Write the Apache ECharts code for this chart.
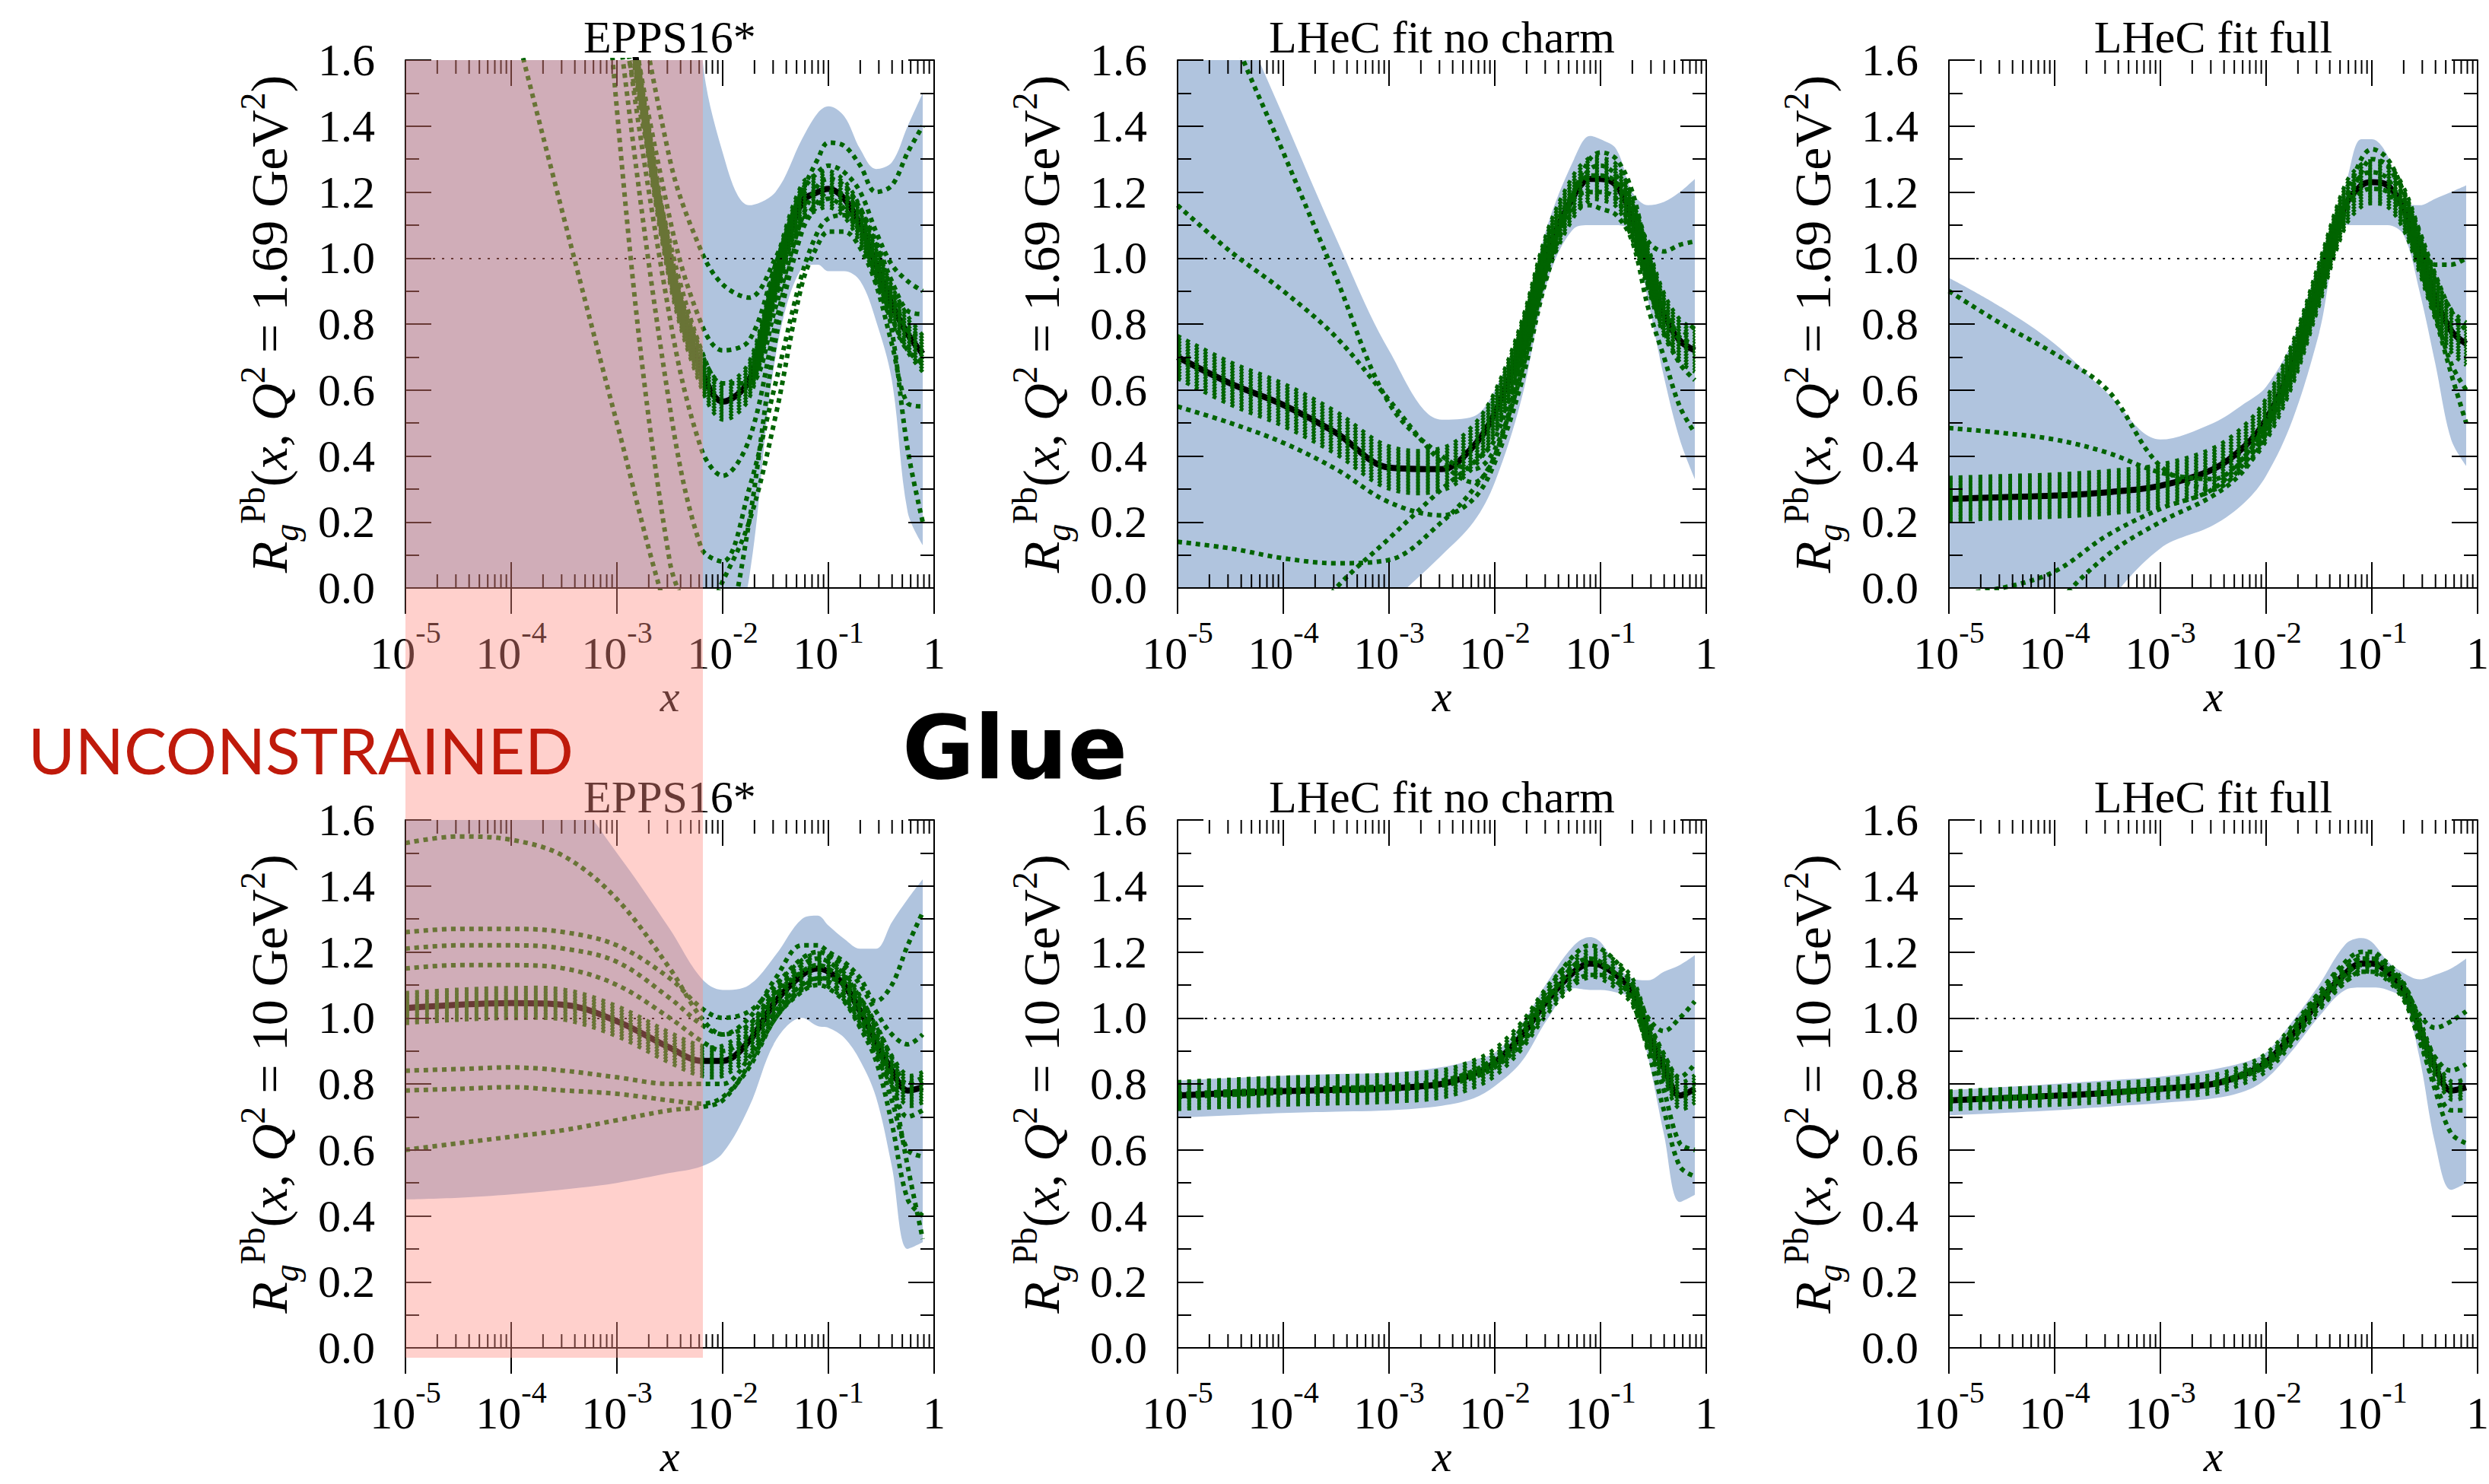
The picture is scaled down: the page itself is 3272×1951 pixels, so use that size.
<!DOCTYPE html>
<html>
<head>
<meta charset="utf-8">
<title>Glue - R_g^Pb</title>
<script src="https://cdn.jsdelivr.net/npm/echarts@6/dist/echarts.min.js"></script>
<style>
    html, body { margin: 0; padding: 0; background: #fff; }
    #main { width: 3272px; height: 1951px; }
</style>
</head>
<body>
<div id="main"></div>
<script>
/* ---------- data ---------- */

// x sampling points shared by every curve (1e-5 ... 0.78)
var xGrid = [1e-5, 3.16e-5, 1e-4, 3.16e-4, 1e-3, 3.16e-3, 6.3e-3, 1e-2, 1.78e-2, 3.16e-2,
    5.62e-2, 7.94e-2, 0.1, 0.141, 0.2, 0.282, 0.398, 0.562, 0.78];

var panelTitles = ['EPPS16*', 'LHeC fit no charm', 'LHeC fit full',
    'EPPS16*', 'LHeC fit no charm', 'LHeC fit full'];
var q2Values = ['1.69', '1.69', '1.69', '10', '10', '10'];

var xMin = 1e-5, xMax = 1;
var yMin = 0, yMax = 1.6, yStep = 0.2;
var minorMultipliers = [2, 3, 4, 5, 6, 7, 8, 9];
var unconstrainedEdge = 0.0065;

// EPPS16*, Q2 = 1.69 GeV2
var eppsLowCenter = [5.5, 4.4, 3.5, 2.7, 1.95, 0.98, 0.66, 0.565, 0.63, 0.93, 1.17, 1.2, 1.21, 1.18, 1.1, 0.98, 0.86, 0.77, 0.71];
var eppsLowUpper = [9, 9, 9, 9, 9, 5, 1.65, 1.32, 1.16, 1.2, 1.36, 1.44, 1.46, 1.43, 1.33, 1.27, 1.29, 1.4, 1.5];
var eppsLowLower = [-1, -1, -1, -1, -1, -1, -0.5, -0.3, 0.03, 0.7, 0.97, 0.98, 0.96, 0.96, 0.93, 0.81, 0.63, 0.23, 0.13];
var eppsLowMembers = [
    [3.0, 2.4, 1.75, 1.12, 0.5, -0.1, -0.3, -0.2, 0.2, 0.75, 1.08, 1.16, 1.18, 1.15, 1.08, 0.95, 0.82, 0.72, 0.68],
    [9, 7, 5, 3.2, 1.75, 0.55, 0.12, 0.08, 0.3, 0.62, 0.95, 1.08, 1.12, 1.13, 1.08, 0.98, 0.78, 0.42, 0.2],
    [8, 6.5, 5, 3.5, 2.2, 1.3, 1.02, 0.92, 0.88, 1.0, 1.2, 1.3, 1.35, 1.34, 1.28, 1.2, 1.22, 1.32, 1.4],
    [7, 6, 4.8, 3.3, 2.0, 1.12, 0.8, 0.72, 0.75, 0.98, 1.2, 1.26, 1.28, 1.26, 1.2, 1.08, 0.98, 0.93, 0.9],
    [10, 8, 5.8, 3.7, 1.45, 0.08, -0.1, 0.02, 0.2, 0.52, 0.92, 1.04, 1.08, 1.08, 1.03, 0.92, 0.74, 0.56, 0.55],
    [9, 7.5, 5.5, 3.5, 1.9, 0.82, 0.42, 0.34, 0.45, 0.8, 1.1, 1.17, 1.2, 1.19, 1.14, 1.04, 0.9, 0.78, 0.76],
    [6, 5, 4, 2.9, 1.8, 1.05, 0.72, 0.62, 0.62, 0.85, 1.12, 1.22, 1.24, 1.22, 1.15, 1.05, 0.93, 0.84, 0.83]
];

// LHeC fit no charm, Q2 = 1.69 GeV2
var noCharmLowCenter = [0.7, 0.62, 0.555, 0.47, 0.365, 0.36, 0.43, 0.53, 0.74, 1.02, 1.19, 1.24, 1.24, 1.22, 1.12, 0.97, 0.83, 0.75, 0.72];
var noCharmLowUpper = [2.2, 1.8, 1.43, 1.06, 0.72, 0.51, 0.52, 0.6, 0.8, 1.1, 1.3, 1.37, 1.36, 1.33, 1.2, 1.16, 1.17, 1.2, 1.24];
var noCharmLowLower = [-0.4, -0.35, -0.3, -0.2, -0.05, 0.1, 0.2, 0.32, 0.57, 0.93, 1.09, 1.1, 1.1, 1.1, 1.08, 0.87, 0.64, 0.45, 0.33];
var noCharmLowMembers = [
    [2.2, 1.7, 1.32, 0.94, 0.56, 0.4, 0.36, 0.42, 0.65, 0.98, 1.2, 1.27, 1.28, 1.25, 1.15, 1.05, 1.02, 1.04, 1.05],
    [1.16, 1.02, 0.9, 0.76, 0.57, 0.38, 0.32, 0.4, 0.68, 1.0, 1.18, 1.2, 1.2, 1.18, 1.08, 0.92, 0.78, 0.68, 0.63],
    [0.55, 0.5, 0.44, 0.36, 0.26, 0.22, 0.27, 0.38, 0.62, 0.95, 1.15, 1.16, 1.15, 1.13, 1.05, 0.85, 0.7, 0.55, 0.47],
    [0.14, 0.12, 0.09, 0.075, 0.085, 0.2, 0.3, 0.4, 0.65, 0.98, 1.2, 1.3, 1.32, 1.3, 1.2, 1.0, 0.85, 0.76, 0.8],
    [-0.6, -0.4, -0.2, 0.0, 0.15, 0.3, 0.38, 0.45, 0.7, 1.04, 1.2, 1.25, 1.25, 1.23, 1.13, 0.98, 0.86, 0.76, 0.74]
];

// LHeC fit full, Q2 = 1.69 GeV2
var fullLowCenter = [0.27, 0.275, 0.28, 0.29, 0.31, 0.36, 0.43, 0.51, 0.68, 0.92, 1.16, 1.22, 1.23, 1.22, 1.15, 1.02, 0.88, 0.78, 0.74];
var fullLowUpper = [0.94, 0.85, 0.74, 0.59, 0.45, 0.5, 0.56, 0.61, 0.75, 0.99, 1.22, 1.36, 1.36, 1.31, 1.17, 1.16, 1.18, 1.2, 1.22];
var fullLowLower = [-0.6, -0.45, -0.3, -0.05, 0.12, 0.19, 0.26, 0.34, 0.51, 0.77, 1.1, 1.1, 1.1, 1.1, 1.07, 0.9, 0.68, 0.45, 0.37];
var fullLowMembers = [
    [0.9, 0.8, 0.71, 0.6, 0.37, 0.3, 0.38, 0.48, 0.66, 0.9, 1.15, 1.26, 1.3, 1.28, 1.18, 1.05, 0.98, 0.98, 1.0],
    [0.485, 0.47, 0.45, 0.41, 0.35, 0.33, 0.4, 0.5, 0.69, 0.93, 1.18, 1.25, 1.26, 1.24, 1.14, 1.0, 0.83, 0.68, 0.6],
    [-0.02, 0.0, 0.05, 0.16, 0.24, 0.3, 0.4, 0.5, 0.67, 0.9, 1.14, 1.2, 1.21, 1.2, 1.12, 0.98, 0.82, 0.65, 0.5],
    [-0.6, -0.3, -0.06, 0.1, 0.2, 0.28, 0.36, 0.47, 0.66, 0.9, 1.17, 1.3, 1.33, 1.3, 1.2, 1.08, 0.95, 0.84, 0.78]
];

// EPPS16*, Q2 = 10 GeV2
var eppsHighCenter = [1.03, 1.04, 1.045, 1.04, 0.99, 0.91, 0.87, 0.87, 0.93, 1.05, 1.13, 1.15, 1.14, 1.1, 1.02, 0.93, 0.84, 0.78, 0.79];
var eppsHighUpper = [1.8, 1.8, 1.78, 1.7, 1.5, 1.27, 1.12, 1.085, 1.1, 1.19, 1.3, 1.31, 1.28, 1.24, 1.21, 1.21, 1.29, 1.36, 1.42];
var eppsHighLower = [0.45, 0.455, 0.465, 0.48, 0.5, 0.53, 0.55, 0.59, 0.73, 0.93, 1.0, 0.975, 0.97, 0.94, 0.87, 0.76, 0.55, 0.3, 0.32];
var eppsHighMembers = [
    [1.53, 1.55, 1.54, 1.49, 1.36, 1.15, 1.0, 0.95, 1.0, 1.12, 1.22, 1.22, 1.2, 1.17, 1.12, 1.05, 1.1, 1.22, 1.32],
    [1.26, 1.27, 1.27, 1.26, 1.22, 1.12, 1.03, 1.0, 1.02, 1.1, 1.18, 1.2, 1.19, 1.16, 1.1, 1.02, 0.95, 0.92, 0.95],
    [1.21, 1.22, 1.22, 1.21, 1.17, 1.06, 0.98, 0.95, 0.98, 1.08, 1.16, 1.18, 1.17, 1.13, 1.06, 0.98, 0.88, 0.8, 0.82],
    [1.15, 1.16, 1.16, 1.15, 1.1, 1.0, 0.93, 0.9, 0.95, 1.07, 1.14, 1.16, 1.15, 1.11, 1.03, 0.93, 0.8, 0.7, 0.72],
    [0.84, 0.845, 0.85, 0.84, 0.82, 0.8, 0.8, 0.8, 0.88, 1.02, 1.1, 1.12, 1.11, 1.07, 1.0, 0.9, 0.75, 0.6, 0.58],
    [0.78, 0.785, 0.79, 0.78, 0.77, 0.75, 0.74, 0.76, 0.85, 1.0, 1.08, 1.1, 1.09, 1.05, 0.97, 0.87, 0.68, 0.45, 0.4],
    [0.6, 0.62, 0.64, 0.66, 0.69, 0.72, 0.73, 0.75, 0.86, 1.0, 1.09, 1.12, 1.12, 1.1, 1.04, 0.95, 0.8, 0.55, 0.33]
];

// LHeC fit no charm, Q2 = 10 GeV2
var noCharmHighCenter = [0.765, 0.772, 0.778, 0.782, 0.787, 0.8, 0.83, 0.865, 0.945, 1.055, 1.14, 1.165, 1.16, 1.13, 1.08, 0.95, 0.85, 0.765, 0.785];
var noCharmHighUpper = [0.81, 0.818, 0.825, 0.83, 0.834, 0.851, 0.873, 0.895, 0.98, 1.11, 1.22, 1.245, 1.23, 1.16, 1.12, 1.114, 1.14, 1.16, 1.19];
var noCharmHighLower = [0.698, 0.705, 0.712, 0.716, 0.72, 0.734, 0.756, 0.793, 0.866, 0.997, 1.09, 1.085, 1.085, 1.077, 1.055, 0.88, 0.647, 0.442, 0.464];
var noCharmHighMembers = [
    [0.77, 0.777, 0.783, 0.788, 0.793, 0.81, 0.84, 0.88, 0.965, 1.085, 1.19, 1.22, 1.21, 1.17, 1.1, 1.0, 0.96, 1.0, 1.05],
    [0.76, 0.767, 0.773, 0.778, 0.783, 0.795, 0.82, 0.85, 0.92, 1.03, 1.11, 1.13, 1.13, 1.11, 1.06, 0.93, 0.78, 0.62, 0.6],
    [0.765, 0.772, 0.778, 0.782, 0.787, 0.8, 0.83, 0.86, 0.94, 1.06, 1.16, 1.18, 1.17, 1.13, 1.05, 0.9, 0.72, 0.55, 0.52],
    [0.768, 0.775, 0.78, 0.785, 0.79, 0.802, 0.832, 0.868, 0.95, 1.06, 1.15, 1.17, 1.165, 1.14, 1.1, 0.99, 0.89, 0.82, 0.86]
];

// LHeC fit full, Q2 = 10 GeV2
var fullHighCenter = [0.75, 0.757, 0.764, 0.773, 0.785, 0.8, 0.83, 0.865, 0.95, 1.05, 1.135, 1.165, 1.165, 1.14, 1.08, 0.97, 0.85, 0.78, 0.79];
var fullHighUpper = [0.781, 0.79, 0.8, 0.811, 0.822, 0.844, 0.866, 0.895, 0.99, 1.1, 1.223, 1.242, 1.23, 1.172, 1.136, 1.117, 1.131, 1.15, 1.18];
var fullHighLower = [0.705, 0.712, 0.72, 0.731, 0.742, 0.756, 0.778, 0.815, 0.902, 1.004, 1.085, 1.092, 1.092, 1.085, 1.055, 0.88, 0.617, 0.479, 0.5];
var fullHighMembers = [
    [0.752, 0.759, 0.766, 0.775, 0.787, 0.803, 0.835, 0.875, 0.965, 1.075, 1.17, 1.2, 1.2, 1.16, 1.1, 1.01, 0.97, 0.99, 1.02],
    [0.748, 0.755, 0.762, 0.771, 0.783, 0.797, 0.825, 0.855, 0.935, 1.03, 1.11, 1.14, 1.14, 1.12, 1.06, 0.94, 0.78, 0.65, 0.62],
    [0.75, 0.757, 0.764, 0.773, 0.785, 0.8, 0.83, 0.86, 0.94, 1.04, 1.13, 1.16, 1.16, 1.13, 1.06, 0.93, 0.8, 0.72, 0.72],
    [0.751, 0.758, 0.765, 0.774, 0.786, 0.801, 0.832, 0.868, 0.955, 1.06, 1.15, 1.18, 1.18, 1.15, 1.09, 0.98, 0.88, 0.84, 0.86]
];

/* ---------- layout / style ---------- */

var colLeft = [533, 1548, 2562];
var rowTop = [79, 1078];
var plotW = 695, plotH = 694;
var hatchHalf = [24, 28, 28, 20, 18, 12];   // half height of the dense member bundle, px
var hatchStep = 4;
var serif = '"Liberation Serif", "DejaVu Serif", serif';
var bandColor = '#b0c4de';
var green = '#006400';

var panels = [
    {center: eppsLowCenter, upper: eppsLowUpper, lower: eppsLowLower, members: eppsLowMembers},
    {center: noCharmLowCenter, upper: noCharmLowUpper, lower: noCharmLowLower, members: noCharmLowMembers},
    {center: fullLowCenter, upper: fullLowUpper, lower: fullLowLower, members: fullLowMembers},
    {center: eppsHighCenter, upper: eppsHighUpper, lower: eppsHighLower, members: eppsHighMembers},
    {center: noCharmHighCenter, upper: noCharmHighUpper, lower: noCharmHighLower, members: noCharmHighMembers},
    {center: fullHighCenter, upper: fullHighUpper, lower: fullHighLower, members: fullHighMembers}
];

function pairs(ys) {
    return xGrid.map(function (x, k) { return [x, ys[k]]; });
}

function powLabel(v) {
    var e = Math.round(Math.log10(v));
    return e === 0 ? '{b|1}' : '{b|10}{s|' + e + '}';
}

function yName(q2) {
    return '{i|R}{sub|g}{sup|Pb}{n|(}{i|x}{n|, }{i|Q}{sup|2}{n| = ' + q2 + ' GeV}{sup|2}{n|)}';
}

var powRich = {
    b: {fontFamily: serif, fontSize: 60, color: '#000', lineHeight: 96},
    s: {fontFamily: serif, fontSize: 40, color: '#000', verticalAlign: 'top'}
};
var nameRich = {
    i: {fontFamily: serif, fontStyle: 'italic', fontSize: 68, color: '#000', lineHeight: 90},
    n: {fontFamily: serif, fontSize: 68, color: '#000', lineHeight: 90},
    sub: {fontFamily: serif, fontStyle: 'italic', fontSize: 46, color: '#000', verticalAlign: 'bottom'},
    sup: {fontFamily: serif, fontSize: 46, color: '#000', verticalAlign: 'top'}
};

// log-axis ticks: decades (long) and 2..9 x 10^n (short)
var logTicks = [];
for (var d = Math.log10(xMin); d <= Math.log10(xMax); d++) {
    logTicks.push([Math.pow(10, d), 34]);
    if (d < Math.log10(xMax)) {
        minorMultipliers.forEach(function (m) { logTicks.push([m * Math.pow(10, d), 18]); });
    }
}

var axisLineStyle = {color: '#000', width: 2};

var grids = [], xAxes = [], yAxes = [], series = [];

panels.forEach(function (p, i) {
    var col = i % 3, row = Math.floor(i / 3);
    grids.push({left: colLeft[col], top: rowTop[row], width: plotW, height: plotH, outerBoundsMode: 'none'});

    ['bottom', 'top'].forEach(function (pos) {
        xAxes.push({
            type: 'log', logBase: 10, gridIndex: i, min: xMin, max: xMax, position: pos, z: 10,
            axisLine: {show: true, lineStyle: axisLineStyle},
            axisTick: {show: true, inside: true, length: 34, lineStyle: axisLineStyle},
            splitLine: {show: false},
            axisLabel: {
                show: pos === 'bottom', formatter: powLabel, margin: 38, interval: 0,
                showMinLabel: true, showMaxLabel: true, rich: powRich
            },
            name: pos === 'bottom' ? 'x' : '',
            nameLocation: 'middle', nameGap: 122, nameMoveOverlap: false,
            nameTextStyle: {fontFamily: serif, fontStyle: 'italic', fontSize: 58, color: '#000', lineHeight: 40}
        });
    });

    ['left', 'right'].forEach(function (pos) {
        yAxes.push({
            type: 'value', gridIndex: i, min: yMin, max: yMax, interval: yStep, position: pos, z: 10,
            axisLine: {show: true, lineStyle: axisLineStyle},
            axisTick: {show: true, inside: true, length: 34, lineStyle: axisLineStyle},
            minorTick: {show: true, splitNumber: 2, length: 18, lineStyle: axisLineStyle},
            splitLine: {show: false},
            minorSplitLine: {show: false},
            axisLabel: {
                show: pos === 'left', margin: 40, color: '#000', fontFamily: serif, fontSize: 60,
                showMinLabel: true, showMaxLabel: true,
                formatter: function (v) { return v.toFixed(1); }
            },
            name: pos === 'left' ? yName(q2Values[i]) : '',
            nameLocation: 'middle', nameRotate: 90, nameGap: 134, nameMoveOverlap: false,
            nameTextStyle: {rich: nameRich}
        });
    });

    var xi = 2 * i, yi = 2 * i;
    var base = {type: 'line', xAxisIndex: xi, yAxisIndex: yi, symbol: 'none', smooth: 0.35, silent: true, clip: true};

    // uncertainty band: fill under upper curve, then white under lower curve
    series.push(Object.assign({}, base, {
        data: pairs(p.upper), z: 1,
        lineStyle: {width: 0, opacity: 0},
        areaStyle: {color: bandColor, opacity: 1, origin: 'start'}
    }));
    series.push(Object.assign({}, base, {
        data: pairs(p.lower), z: 2,
        lineStyle: {width: 0, opacity: 0},
        areaStyle: {color: '#ffffff', opacity: 1, origin: 'start'}
    }));
    // central fit
    series.push(Object.assign({}, base, {
        data: pairs(p.center), z: 3,
        lineStyle: {color: '#000', width: 8},
        markLine: {
            silent: true, symbol: ['none', 'none'], label: {show: false},
            lineStyle: {color: '#000', width: 2, type: [3, 9]},
            data: [[{coord: [xGrid[0], 1]}, {coord: [xGrid[xGrid.length - 1], 1]}]]
        }
    }));
    // dense bundle of error members hugging the central fit
    series.push({
        type: 'custom', xAxisIndex: xi, yAxisIndex: yi, silent: true, clip: true, z: 4,
        data: [[xGrid[0], p.center[0]]],
        renderItem: function (params, api) {
            var pts = xGrid.map(function (x, k) { return api.coord([x, p.center[k]]); });
            var cs = params.coordSys;
            var children = [];
            for (var off = -hatchHalf[i]; off <= hatchHalf[i] + 0.01; off += hatchStep) {
                children.push({
                    type: 'polyline',
                    shape: {points: pts.map(function (pt) { return [pt[0], pt[1] + off]; }), smooth: 0.35},
                    style: {stroke: green, fill: null, lineWidth: 5, lineDash: [5, 8], lineCap: 'butt'}
                });
            }
            return {
                type: 'group', children: children,
                clipPath: {type: 'rect', shape: {x: cs.x, y: cs.y, width: cs.width, height: cs.height}}
            };
        }
    });
    // individual error members
    p.members.forEach(function (m) {
        series.push(Object.assign({}, base, {
            data: pairs(m), z: 5,
            lineStyle: {color: green, width: 6, type: [6, 6], cap: 'butt'}
        }));
    });
    // log-axis ticks on bottom and top
    series.push({
        type: 'custom', xAxisIndex: xi, yAxisIndex: yi, silent: true, z: 11,
        data: logTicks,
        renderItem: function (params, api) {
            var x = api.value(0), len = api.value(1);
            var b = api.coord([x, yMin]);
            var t = api.coord([x, yMax]);
            var st = {stroke: '#000', lineWidth: 2};
            return {
                type: 'group', children: [
                    {type: 'line', shape: {x1: b[0], y1: b[1], x2: b[0], y2: b[1] - len}, style: st},
                    {type: 'line', shape: {x1: t[0], y1: t[1], x2: t[0], y2: t[1] + len}, style: st}
                ]
            };
        }
    });
});

var chart = echarts.init(document.getElementById('main'), null, {renderer: 'svg'});
chart.setOption({
    animation: false,
    backgroundColor: '#fff',
    grid: grids,
    xAxis: xAxes,
    yAxis: yAxes,
    series: series
});

/* ---------- titles, labels and the "unconstrained" overlay ---------- */

var graphics = [];
panels.forEach(function (p, i) {
    var col = i % 3, row = Math.floor(i / 3);
    graphics.push({
        type: 'text', z: 20,
        style: {
            text: panelTitles[i], x: colLeft[col] + plotW / 2, y: rowTop[row] - 30,
            font: '60px ' + serif, fill: '#000',
            textAlign: 'center', textVerticalAlign: 'middle'
        }
    });
});

var pinkLeft = chart.convertToPixel({xAxisIndex: 0}, xMin);
var pinkRight = chart.convertToPixel({xAxisIndex: 0}, unconstrainedEdge);
var pinkTop = chart.convertToPixel({yAxisIndex: 0}, yMax);
var pinkBottom = chart.convertToPixel({yAxisIndex: 6}, yMin) + 13;

graphics.push({
    type: 'rect', z: 100, silent: true,
    shape: {x: pinkLeft, y: pinkTop, width: pinkRight - pinkLeft, height: pinkBottom - pinkTop},
    style: {fill: 'rgba(255, 140, 130, 0.41)'}
});
graphics.push({
    type: 'text', z: 101,
    style: {
        text: 'UNCONSTRAINED', x: 37, y: 985,
        font: '84px Lato, "Open Sans", sans-serif', fill: '#bf1a0b',
        textAlign: 'left', textVerticalAlign: 'middle'
    }
});
graphics.push({
    type: 'text', z: 101,
    style: {
        text: 'Glue', x: 1334, y: 982,
        font: 'bold 116px "DejaVu Sans", sans-serif', fill: '#000',
        textAlign: 'center', textVerticalAlign: 'middle'
    }
});

chart.setOption({graphic: graphics});
</script>
</body>
</html>
